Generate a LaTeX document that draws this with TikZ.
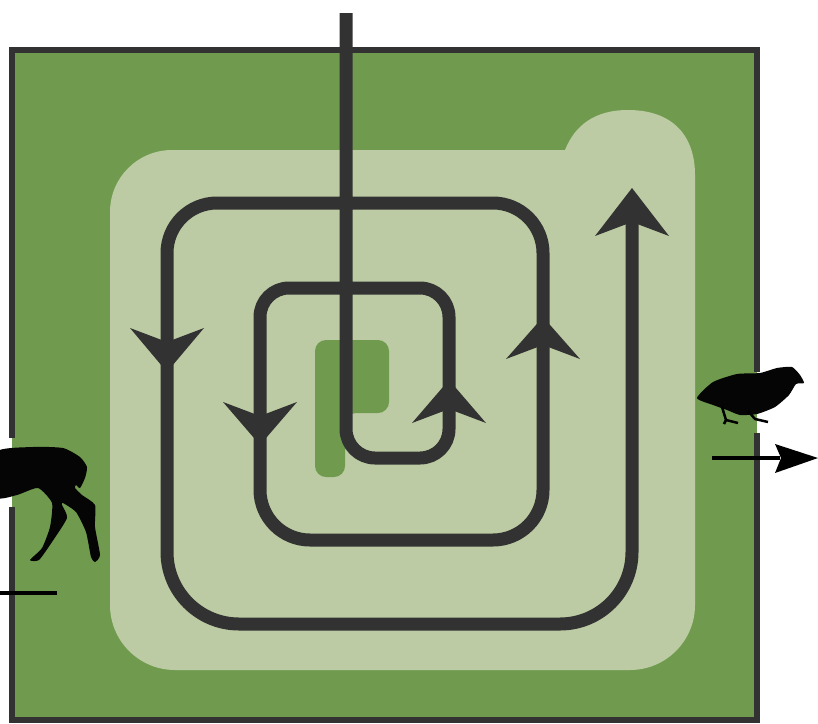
\documentclass[tikz,border=0pt]{standalone}
\begin{document}
\begin{tikzpicture}[x=1pt, y=-1pt, line join=round]

    % --- Colors ---
    \definecolor{fieldgreen}{RGB}{112, 155, 79}
    \definecolor{trampled}{RGB}{188, 203, 163}
    \definecolor{spiraldark}{RGB}{50, 50, 50}
    \tikzset{
        spiralline/.style={spiraldark, line width=13pt},
        fieldborder/.style={spiraldark, line width=6pt, line join=miter},
        flowarrow/.style={black, line width=4pt},
        animal/.style={fill=black!90!spiraldark, draw=none}
    }

    \useasboundingbox (0,0) rectangle (818,723);

    % --- Coordinates ---
    \coordinate (entry) at (346, 13);
    \coordinate (inL) at (0, 593);
    \coordinate (inR) at (57, 593);
    \coordinate (outL) at (712, 458);
    \coordinate (outR) at (780, 458);

    % --- 1. Field and trampled area ---
    \fill[fieldgreen] (12,50) rectangle (757,720);
    \draw[fieldborder] (12,438) -- (12,50) -- (757,50) -- (757,372);
    \draw[fieldborder] (757,433) -- (757,720) -- (12,720) -- (12,507);

    \fill[trampled] (110,300) [rounded corners=62pt] -- (110,150) [sharp corners] -- (565,150)
        .. controls (575,125) and (595,110) .. (628,110)
        .. controls (672,110) and (695,135) .. (695,175)
        [rounded corners=65pt] -- (695,670) -- (110,670) -- (110,300) [sharp corners] -- cycle;

    % --- 2. Dropping patch ---
    \fill[fieldgreen, rounded corners=11pt] (315,340) -- (389,340) -- (389,413) -- (345,413) -- (345,477) -- (315,477) -- cycle;

    % --- 3. Spiral path ---
    \draw[spiralline] (entry) -- (346,300) [rounded corners=29pt] -- (346,458) -- (449,458) -- (449,288) -- (260,288)
        [rounded corners=50pt] -- (260,540) -- (543,540) -- (543,203) -- (167,203)
        [rounded corners=72pt] -- (167,624) -- (632,624) [sharp corners] -- (632,215);

    % --- 4. Arrow heads on the spiral (tip x/y, direction, length) ---
    \foreach \x/\y/\a/\l in {632/188/0/48, 543/317/0/42, 449/380/0/43, 167/372/180/44, 260/445/180/43} {
        \fill[spiraldark, shift={(\x,\y)}, rotate=\a]
            (0,0) -- (37,\l) -- (0,\l-14) -- (-37,\l) -- cycle;
    }

    % --- 5. Flow arrows ---
    \draw[flowarrow] (inL) -- (inR);
    \draw[flowarrow] (outL) -- (outR);
    \fill[black] (818,458) -- (775,444) -- (781,458) -- (775,473) -- cycle;

    % --- 6. Animals ---
    % Grazer leaving on the left edge
    \fill[animal] plot[smooth cycle, tension=0.35] coordinates {
        (-4,452) (33,447) (63,448) (80,457) (87,467) (85,478) (80,488) (76,485) (75,488)
        (82,495) (95,505) (95,527) (100,555) (95,562) (91,557) (86,532) (76,512) (63,503)
        (62,505) (67,518) (52,542) (39,560) (30,560) (42,548) (50,527) (52,503) (38,488)
        (17,495) (-4,497)};

    % Bird on the right edge
    \fill[animal] plot[smooth cycle, tension=0.35] coordinates {
        (697,398) (713,382) (737,374) (760,373) (777,368) (792,367) (800,375) (804,383)
        (796,384) (789,395) (775,407) (757,414) (740,415) (727,410) (713,405)};
    \draw[black, line width=2.5pt] (722,407) -- (726,420) -- (738,423) (726,420) -- (724,424);
    \draw[black, line width=2.5pt] (748,411) -- (755,419) -- (768,422);

\end{tikzpicture}
\end{document}
